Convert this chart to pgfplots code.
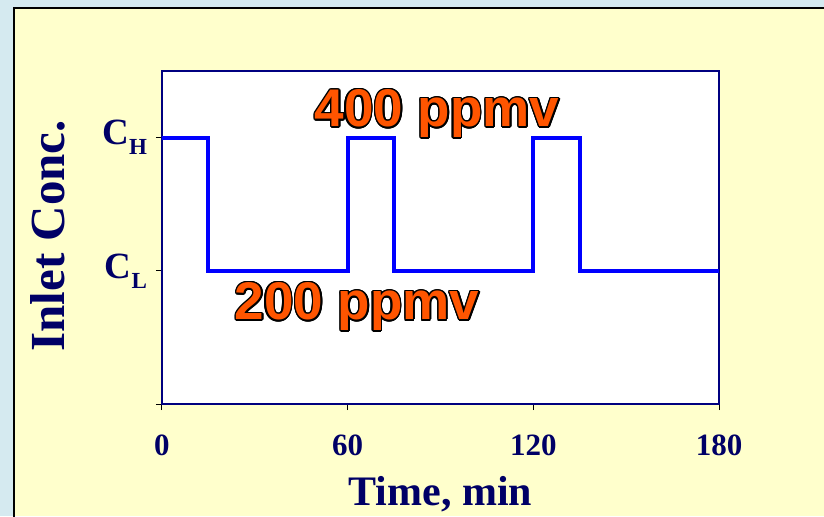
\documentclass[border=0pt]{standalone}
\usepackage{fontspec}
\setmainfont{Liberation Serif}
\newfontfamily\arialb{Liberation Sans}
\usepackage{pgfplots}
\pgfplotsset{compat=1.18}
\usepackage{contour}
\contourlength{0.75pt}
\definecolor{bgblue}{RGB}{213,234,240}
\definecolor{bgyellow}{RGB}{255,255,204}
\definecolor{navytext}{RGB}{0,0,102}
\definecolor{axnavy}{RGB}{0,0,128}
\definecolor{lineblue}{RGB}{0,0,255}
\definecolor{ppmvorange}{RGB}{255,85,0}
\newcommand\Cs[1]{C\raisebox{-5pt}{\fontsize{11.5}{13}\selectfont #1}}
\begin{document}
\begin{tikzpicture}
\path[use as bounding box] (0,0) rectangle (412pt,258pt);
\fill[bgblue] (0,0) rectangle (412pt,258pt);
\fill[bgyellow] (7pt,0) rectangle (412pt,254pt);
\draw[black,line width=1pt] (7pt,-2pt) -- (7pt,254pt) -- (414pt,254pt);
\begin{axis}[
  at={(81pt,56pt)}, anchor=origin,
  scale only axis, width=278.5pt, height=166.5pt,
  xmin=0, xmax=180, ymin=0, ymax=500,
  axis background/.style={fill=white},
  axis line style={axnavy,line width=1pt},
  xtick={0,60,120,180}, xticklabels={0,60,120,180},
  ytick={0,200,400}, yticklabels={,\Cs{L},\Cs{H}},
  tick align=outside, major tick length=3pt,
  tick style={black,line width=0.5pt},
  xtick pos=bottom, ytick pos=left,
  xticklabel style={font=\fontsize{15.5}{18}\selectfont\bfseries, text=navytext, yshift=-9pt},
  yticklabel style={font=\fontsize{18.5}{21}\selectfont\bfseries, text=navytext, xshift=-1pt},
  xlabel={Time, min},
  ylabel={Inlet Conc.},
  xlabel style={font=\fontsize{21}{25}\selectfont\bfseries, text=navytext, at={(axis description cs:0.5,-0.306)}, anchor=base},
  ylabel style={font=\fontsize{24.5}{29}\selectfont\bfseries, text=navytext, at={(axis description cs:-0.205,0.505)}, anchor=center},
]
\addplot[lineblue, line width=2pt] coordinates {
  (0,400) (15,400) (15,200) (60,200) (60,400) (75,400) (75,200)
  (120,200) (120,400) (135,400) (135,200) (180,200)
};
\node[anchor=base, inner sep=0pt, font=\arialb\bfseries\fontsize{26.5}{30}\selectfont, text=ppmvorange] at (axis cs:88.9,416.5) {\contour{black}{400 ppmv}};
\node[anchor=base, inner sep=0pt, font=\arialb\bfseries\fontsize{26.5}{30}\selectfont, text=ppmvorange] at (axis cs:63.0,126.3) {\contour{black}{200 ppmv}};
\end{axis}
\end{tikzpicture}
\end{document}
